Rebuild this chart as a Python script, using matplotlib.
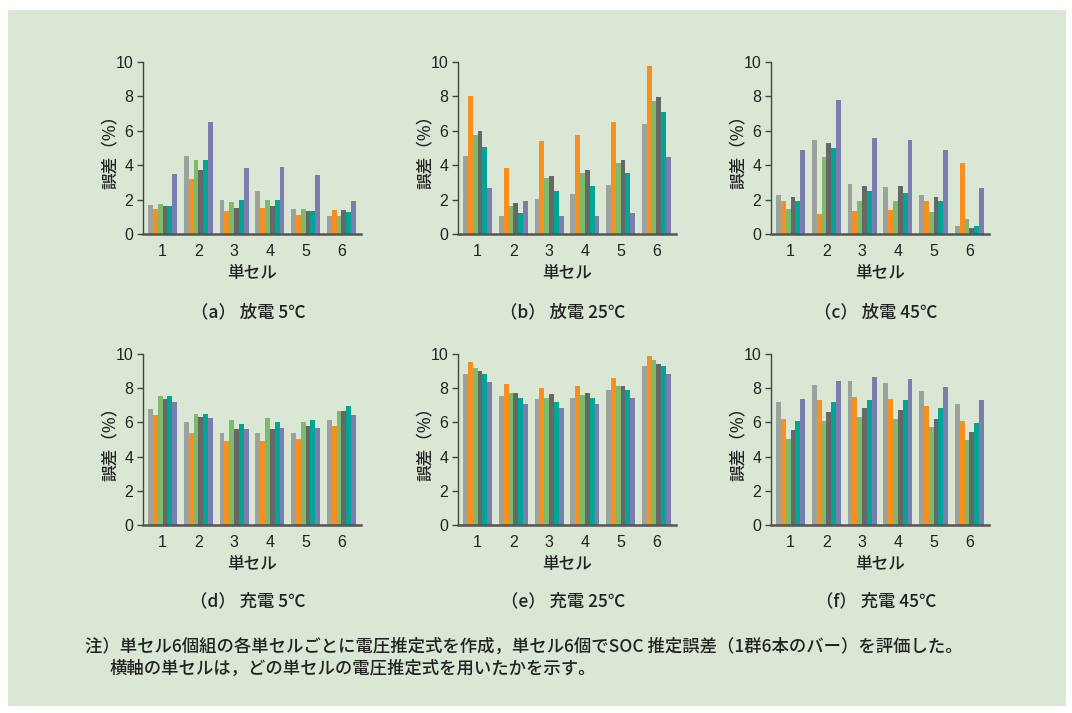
import matplotlib
matplotlib.use("Agg")
import matplotlib.pyplot as plt
import numpy as np
from matplotlib.patches import Rectangle

plt.rcParams['font.family'] = ['Noto Sans CJK JP', 'DejaVu Sans']

cells = [1, 2, 3, 4, 5, 6]
bar_colors = ['#9DA39C', '#F7901E', '#7DBA6C', '#656866', '#00A596', '#7C7DAF']

# each panel: rows = bar series (6 per group), columns = 単セル 1..6
discharge_5 = [
    [1.70, 4.55, 1.95, 2.50, 1.45, 1.05],
    [1.45, 3.20, 1.35, 1.50, 1.10, 1.40],
    [1.75, 4.30, 1.85, 1.95, 1.45, 1.05],
    [1.60, 3.70, 1.50, 1.65, 1.35, 1.40],
    [1.60, 4.30, 1.95, 1.95, 1.35, 1.28],
    [3.50, 6.50, 3.85, 3.90, 3.45, 1.93],
]
discharge_25 = [
    [4.55, 1.07, 2.05, 2.34, 2.87, 6.41],
    [8.00, 3.86, 5.43, 5.77, 6.53, 9.79],
    [5.77, 1.65, 3.28, 3.57, 4.15, 7.75],
    [6.00, 1.82, 3.39, 3.74, 4.32, 7.98],
    [5.08, 1.24, 2.52, 2.81, 3.57, 7.11],
    [2.70, 1.94, 1.07, 1.07, 1.24, 4.50],
]
discharge_45 = [
    [2.27, 5.48, 2.91, 2.74, 2.27, 0.45],
    [1.92, 1.17, 1.34, 1.40, 1.92, 4.10],
    [1.46, 4.49, 1.92, 1.92, 1.28, 0.90],
    [2.16, 5.30, 2.80, 2.80, 2.16, 0.37],
    [1.92, 5.01, 2.50, 2.39, 1.92, 0.48],
    [4.89, 7.81, 5.59, 5.48, 4.89, 2.69],
]
charge_5 = [
    [6.76, 6.00, 5.36, 5.36, 5.36, 6.14],
    [6.41, 5.36, 4.89, 4.89, 5.01, 5.79],
    [7.57, 6.52, 6.12, 6.23, 6.00, 6.67],
    [7.34, 6.29, 5.59, 5.59, 5.77, 6.67],
    [7.57, 6.52, 5.88, 6.00, 6.12, 6.96],
    [7.17, 6.23, 5.59, 5.65, 5.65, 6.43],
]
charge_25 = [
    [8.82, 7.54, 7.37, 7.43, 7.89, 9.28],
    [9.52, 8.24, 8.01, 8.12, 8.59, 9.86],
    [9.17, 7.72, 7.43, 7.60, 8.12, 9.63],
    [8.99, 7.72, 7.66, 7.72, 8.12, 9.40],
    [8.82, 7.43, 7.20, 7.43, 7.89, 9.28],
    [8.36, 7.08, 6.85, 7.08, 7.43, 8.82],
]
charge_45 = [
    [7.20, 8.19, 8.43, 8.31, 7.84, 7.10],
    [6.21, 7.32, 7.50, 7.38, 6.97, 6.11],
    [5.05, 6.10, 6.33, 6.21, 5.75, 5.00],
    [5.57, 6.62, 6.85, 6.74, 6.21, 5.46],
    [6.10, 7.20, 7.32, 7.32, 6.85, 5.99],
    [7.38, 8.43, 8.66, 8.54, 8.08, 7.33],
]

panels = [discharge_5, discharge_25, discharge_45, charge_5, charge_25, charge_45]
captions = ['（a） 放電 5℃', '（b） 放電 25℃', '（c） 放電 45℃',
            '（d） 充電 5℃', '（e） 充電 25℃', '（f） 充電 45℃']
y_ticks = [0, 2, 4, 6, 8, 10]
ylabel = '誤差（%）'
xlabel = '単セル'
note_lines = ['注）単セル6個組の各単セルごとに電圧推定式を作成，単セル6個でSOC 推定誤差（1群6本のバー）を評価した。',
              '横軸の単セルは，どの単セルの電圧推定式を用いたかを示す。']

W, H = 1072, 713
fig = plt.figure(figsize=(W / 100, H / 100), dpi=100)
fig.patch.set_facecolor('white')
bg = '#DAE7D4'
txt = '#222222'
fig.patches.append(Rectangle((8 / W, 1 - 706 / H), (1066 - 8) / W, (706 - 10) / H,
                             transform=fig.transFigure, facecolor=bg, edgecolor='none', zorder=-5))

lefts = [143, 458, 771]
ax_w = 218
rows = [(62, 234), (354, 525)]
caption_y = [312, 601]

bw = 0.135
offsets = (np.arange(6) - 2.5) * bw
x = np.array(cells, dtype=float)

for i, data in enumerate(panels):
    r, c = divmod(i, 3)
    top, bot = rows[r]
    ax = fig.add_axes([lefts[c] / W, 1 - bot / H, ax_w / W, (bot - top) / H])
    ax.set_zorder(2)
    ax.set_facecolor('none')
    for k in range(6):
        ax.bar(x + offsets[k], data[k], width=bw, color=bar_colors[k], linewidth=0)
    ax.set_xlim(0.45, 6.55)
    ax.set_ylim(0, 10)
    ax.set_yticks(y_ticks)
    ax.set_xticks(cells)
    ax.set_yticklabels([str(t) for t in y_ticks], family=['Liberation Sans', 'DejaVu Sans'], fontsize=11.5, color=txt)
    ax.set_xticklabels([str(t) for t in cells], family=['Liberation Sans', 'DejaVu Sans'], fontsize=11.5, color=txt)
    ax.tick_params(axis='x', length=0, pad=7)
    ax.tick_params(axis='y', length=4, width=1, color='#444444', pad=3, direction='out')
    for s in ['top', 'right']:
        ax.spines[s].set_visible(False)
    ax.spines['left'].set_color('#444444')
    ax.spines['left'].set_linewidth(1.0)
    ax.spines['bottom'].set_color('#555555')
    ax.spines['bottom'].set_linewidth(1.8)
    ax.set_ylabel(ylabel, fontsize=12, color=txt, labelpad=-2, fontweight='medium')
    ax.set_xlabel(xlabel, fontsize=12, color=txt, labelpad=4, fontweight='medium')
    cx = (lefts[c] + ax_w / 2) / W
    fig.text(cx - 4 / W, 1 - caption_y[r] / H, captions[i], ha='center', va='center',
             fontsize=12.5, color=txt, fontweight='medium')

fig.text(85 / W, 1 - 647 / H, note_lines[0], ha='left', va='center', fontsize=12.5, color=txt, fontweight='medium')
fig.text(110 / W, 1 - 669 / H, note_lines[1], ha='left', va='center', fontsize=12.5, color=txt, fontweight='medium')

fig.savefig('out.png', dpi=100, facecolor=fig.get_facecolor())
